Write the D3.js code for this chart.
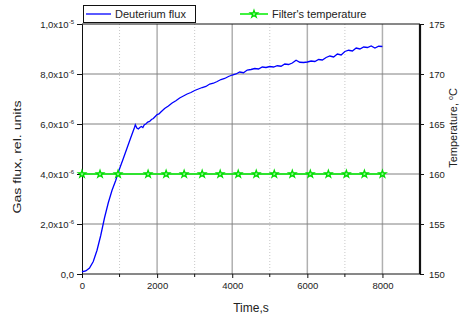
<!DOCTYPE html>
<html>
<head>
<meta charset="utf-8">
<script src="https://cdn.jsdelivr.net/npm/d3@7"></script>
<style>
  body { margin: 0; background: #fff; }
  text { font-family: "Liberation Sans", Arial, sans-serif; fill: #222; }
</style>
</head>
<body>
<svg id="chart" width="460" height="317"></svg>
<script>
// deuterium flux, time in s, flux in units of 1e-6
var fluxTime = [0, 100, 200, 300, 400, 500, 550, 600, 700, 800, 900, 950, 1000, 1100, 1200, 1300, 1400, 1420,
	1460, 1500, 1540, 1580, 1620, 1660, 1700, 1750, 1800, 1850, 1900, 1950, 2000, 2050, 2100, 2200, 2300, 2400,
	2500, 2600, 2700, 2800, 2900, 3000, 3100, 3200, 3300, 3400, 3500, 3600, 3700, 3800, 3900, 4000,
	4100, 4200, 4300, 4400, 4500, 4600, 4700, 4800, 4900, 5000, 5100, 5200, 5300, 5400, 5500, 5600,
	5700, 5800, 5900, 6000, 6100, 6200, 6300, 6400, 6500, 6600, 6700, 6800, 6900, 7000, 7100, 7200,
	7300, 7400, 7500, 7600, 7700, 7800, 7900, 8000];
var fluxValue = [0.09, 0.12, 0.24, 0.5, 0.95, 1.55, 1.9, 2.25, 2.85, 3.35, 3.75, 4.0, 4.21, 4.62, 5.04, 5.46, 5.87, 5.97,
	5.84, 5.8, 5.86, 5.9, 5.86, 5.97, 6.0, 6.08, 6.1, 6.18, 6.22, 6.3, 6.38, 6.4, 6.48, 6.62, 6.72, 6.84,
	6.93, 7.04, 7.12, 7.2, 7.26, 7.34, 7.4, 7.46, 7.5, 7.6, 7.63, 7.7, 7.78, 7.82, 7.9, 7.96,
	8.0, 8.08, 8.05, 8.16, 8.18, 8.22, 8.2, 8.28, 8.26, 8.3, 8.28, 8.33, 8.31, 8.4, 8.38, 8.44,
	8.55, 8.47, 8.46, 8.48, 8.52, 8.5, 8.58, 8.56, 8.66, 8.72, 8.68, 8.8, 8.76, 8.9, 8.95, 8.92,
	9.04, 9.0, 9.08, 9.06, 9.12, 9.04, 9.11, 9.1];

// filter's temperature, degrees C
var tempTime = [0, 480, 960, 1760, 2240, 2720, 3200, 3680, 4160, 4640, 5120, 5600, 6080, 6560, 7040, 7520, 8000];
var tempValue = [160, 160, 160, 160, 160, 160, 160, 160, 160, 160, 160, 160, 160, 160, 160, 160, 160];

var fluxTicks = [0, 2, 4, 6, 8, 10];
var tempTicks = [150, 155, 160, 165, 170, 175];
var timeTicks = [0, 2000, 4000, 6000, 8000];
var timeMinor = [1000, 3000, 5000, 7000];

var svg = d3.select("#chart");
var pLeft = 82, pRight = 420, pTop = 24, pBottom = 274;

var x = d3.scaleLinear().domain([0, 9000]).range([pLeft, pRight]);
var y = d3.scaleLinear().domain([0, 10]).range([pBottom, pTop]);
var y2 = d3.scaleLinear().domain([150, 175]).range([pBottom, pTop]);

// grid
var grid = svg.append("g");
grid.selectAll("line.minor")
	.data(timeMinor)
	.enter().append("line")
	.attr("x1", function(d) { return x(d); })
	.attr("x2", function(d) { return x(d); })
	.attr("y1", pTop).attr("y2", pBottom)
	.attr("stroke", "#c8c8c8")
	.attr("stroke-dasharray", "1,2");
grid.selectAll("line.major")
	.data(timeTicks.slice(1))
	.enter().append("line")
	.attr("x1", function(d) { return x(d); })
	.attr("x2", function(d) { return x(d); })
	.attr("y1", pTop).attr("y2", pBottom)
	.attr("stroke", "#b0b0b0")
	.attr("stroke-width", 1.5);
grid.selectAll("line.h")
	.data([2, 4, 6, 8])
	.enter().append("line")
	.attr("x1", pLeft).attr("x2", pRight)
	.attr("y1", function(d) { return y(d); })
	.attr("y2", function(d) { return y(d); })
	.attr("stroke", "#808080");

// frame top
svg.append("line")
	.attr("x1", pLeft).attr("x2", pRight)
	.attr("y1", pTop).attr("y2", pTop)
	.attr("stroke", "#111");

// axes
var xAxis = svg.append("g")
	.attr("transform", "translate(0," + pBottom + ")")
	.call(d3.axisBottom(x).tickValues(timeTicks).tickSize(4).tickPadding(4).tickFormat(d3.format("d")));
svg.append("g")
	.attr("transform", "translate(0," + pBottom + ")")
	.selectAll("line")
	.data(timeMinor)
	.enter().append("line")
	.attr("x1", function(d) { return x(d); })
	.attr("x2", function(d) { return x(d); })
	.attr("y1", 0).attr("y2", 3)
	.attr("stroke", "#111");

var yAxis = svg.append("g")
	.attr("transform", "translate(" + pLeft + ",0)")
	.call(d3.axisLeft(y).tickValues(fluxTicks).tickSize(5).tickPadding(3));

var y2Axis = svg.append("g")
	.attr("transform", "translate(" + pRight + ",0)")
	.call(d3.axisRight(y2).tickValues(tempTicks).tickSize(4).tickPadding(5));

[xAxis, yAxis, y2Axis].forEach(function(a) {
	a.select(".domain").attr("stroke", "#111");
	a.selectAll(".tick line").attr("stroke", "#111");
	a.selectAll("text").style("font-family", "Liberation Sans, Arial, sans-serif")
		.style("font-size", "9.5px").attr("fill", "#222");
});
xAxis.select(".domain").attr("d", "M" + pLeft + ",0H" + pRight);
y2Axis.select(".domain").attr("stroke-width", 2.2).attr("d", "M0," + pBottom + "V" + pTop);

// left tick labels with superscript exponents
yAxis.selectAll(".tick").each(function(d) {
	var t = d3.select(this).select("text")
		.attr("x", -8).attr("text-anchor", "end");
	if (d === 0) {
		t.text("0,0");
		return;
	}
	var exp = d >= 10 ? -5 : -6;
	var mant = d >= 10 ? d / 10 : d;
	t.text(null);
	t.append("tspan").text(mant.toFixed(1).replace(".", ",") + "x10");
	t.append("tspan").attr("dy", "-4").style("font-size", "6px").text(String(exp));
});

// series
var fluxLine = d3.line()
	.x(function(d, i) { return x(fluxTime[i]); })
	.y(function(d) { return y(d); });
svg.append("path")
	.datum(fluxValue)
	.attr("d", fluxLine)
	.attr("fill", "none")
	.attr("stroke", "#0000ff")
	.attr("stroke-width", 1.3);

var tempLine = d3.line()
	.x(function(d, i) { return x(tempTime[i]); })
	.y(function(d) { return y2(d); });
svg.append("path")
	.datum(tempValue)
	.attr("d", tempLine)
	.attr("fill", "none")
	.attr("stroke", "#00ee00")
	.attr("stroke-width", 1.5);

var star = d3.symbol().type(d3.symbolStar).size(17);
svg.selectAll("path.star")
	.data(tempValue)
	.enter().append("path")
	.attr("class", "star")
	.attr("d", star)
	.attr("transform", function(d, i) { return "translate(" + x(tempTime[i]) + "," + y2(d) + ")"; })
	.attr("fill", "#9cff9c")
	.attr("stroke", "#00dd00")
	.attr("stroke-width", 1.2);

// titles
svg.append("text")
	.attr("x", (pLeft + pRight) / 2).attr("y", 312)
	.attr("text-anchor", "middle")
	.style("font-size", "12px")
	.text("Time,s");

svg.append("text")
	.attr("transform", "translate(21,157) rotate(-90)")
	.attr("text-anchor", "middle")
	.style("font-size", "11.5px")
	.attr("textLength", 113)
	.attr("lengthAdjust", "spacingAndGlyphs")
	.text("Gas flux, rel. units");

var rt = svg.append("text")
	.attr("transform", "translate(457,128) rotate(-90)")
	.attr("text-anchor", "middle")
	.style("font-size", "11px");
rt.append("tspan").text("Temperature,   ");
rt.append("tspan").attr("dy", "-4").style("font-size", "7px").text("o");
rt.append("tspan").attr("dy", "4").text("C");

// legend
var lg = svg.append("g");
lg.append("rect")
	.attr("x", 83.5).attr("y", 5.5).attr("width", 112).attr("height", 17)
	.attr("fill", "#fff").attr("stroke", "#111");
lg.append("line")
	.attr("x1", 86).attr("x2", 111).attr("y1", 14).attr("y2", 14)
	.attr("stroke", "#0000ff").attr("stroke-width", 1.3);
lg.append("text")
	.attr("x", 115).attr("y", 18)
	.style("font-size", "11px")
	.text("Deuterium flux");
lg.append("line")
	.attr("x1", 240).attr("x2", 268).attr("y1", 14).attr("y2", 14)
	.attr("stroke", "#00ee00").attr("stroke-width", 1.5);
lg.append("path")
	.attr("d", star)
	.attr("transform", "translate(254,14)")
	.attr("fill", "#9cff9c").attr("stroke", "#00dd00").attr("stroke-width", 1.2);
lg.append("text")
	.attr("x", 272).attr("y", 18)
	.style("font-size", "11px")
	.text("Filter's temperature");
</script>
</body>
</html>
